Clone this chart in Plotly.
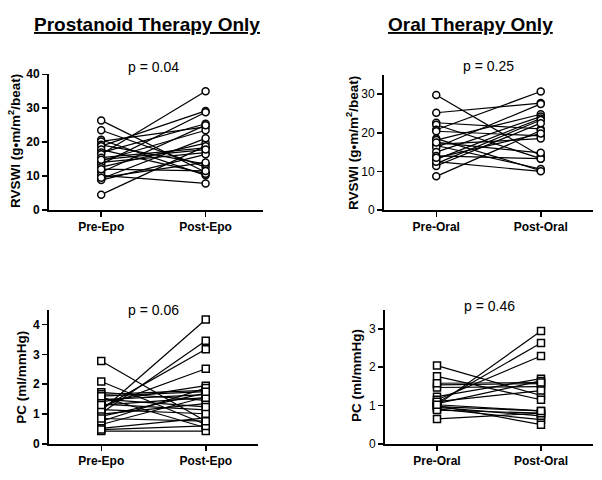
import plotly.graph_objects as go

# ---- data ----
epo_labels = ["Pre-Epo", "Post-Epo"]
oral_labels = ["Pre-Oral", "Post-Oral"]

rvswi_epo_pre = [26.4, 23.5, 20.7, 20.2, 19.2, 18.8, 17.8, 16.9, 16.4, 15.4, 14.5,
                 14.0, 13.5, 12.6, 11.1, 10.2, 9.2, 8.8, 9.5, 4.5, 14.8, 12.0]
rvswi_epo_post = [11.1, 12.6, 10.2, 24.5, 13.5, 29.2, 10.7, 25.4, 35.0, 18.3, 23.5,
                  16.9, 28.8, 19.7, 25.0, 7.8, 21.1, 16.4, 14.0, 18.8, 17.8, 11.5]

rvswi_oral_pre = [29.8, 25.2, 22.6, 22.1, 20.8, 20.4, 18.5, 18.1, 17.0, 16.7,
                  16.2, 15.0, 14.0, 13.1, 12.0, 11.4, 8.7, 12.5, 17.5, 13.5]
rvswi_oral_post = [14.0, 27.7, 21.0, 13.3, 30.7, 19.2, 10.2, 24.8, 18.5, 10.6,
                   27.5, 24.2, 13.3, 23.7, 23.3, 22.5, 20.6, 10.0, 14.8, 19.8]

pc_epo_pre = [2.78, 2.09, 1.73, 1.66, 1.57, 1.48, 1.41, 1.33, 1.24, 1.19, 1.11, 1.03,
              0.92, 0.76, 0.65, 0.52, 0.43, 0.48, 1.00, 1.15, 1.50, 1.30, 0.85, 1.60]
pc_epo_post = [0.76, 0.65, 1.46, 1.79, 0.54, 1.65, 1.95, 1.14, 2.52, 3.17, 4.17, 3.46,
               1.70, 1.87, 1.57, 0.87, 0.43, 0.60, 1.35, 1.01, 1.24, 1.55, 0.76, 1.75]

pc_oral_pre = [2.04, 1.76, 1.54, 1.47, 1.23, 1.15, 1.07, 1.01, 0.97, 0.91, 0.65,
               1.00, 1.05, 0.95, 1.10, 1.58, 0.88, 1.02]
pc_oral_post = [1.26, 1.15, 1.57, 1.49, 1.70, 2.29, 2.63, 2.94, 0.86, 0.63, 0.80,
                0.50, 1.64, 0.73, 1.39, 1.60, 0.80, 0.86]

p_values = ["p = 0.04", "p = 0.25", "p = 0.06", "p = 0.46"]
titles = ["Prostanoid Therapy Only", "Oral Therapy Only"]
ytitles = ["RVSWI (g•m/m<sup>2</sup>/beat)", "RVSWI (g•m/m<sup>2</sup>/beat)",
           "PC (ml/mmHg)", "PC (ml/mmHg)"]
yranges = [[0, 40], [0, 35], [0, 4.5], [0, 3.5]]
ytickvals = [[0, 10, 20, 30, 40], [0, 10, 20, 30], [0, 1, 2, 3, 4], [0, 1, 2, 3]]

W, H = 602, 480
FONT = "Liberation Sans, Arial, sans-serif"

def px(x):
    return x / W

def py(y):
    return 1 - y / H

# panel geometry in pixels: (x0, x1, ytop, ybottom)
panels = [(49, 263, 69.3, 209), (384, 593, 70, 209),
          (49, 258, 311.7, 450), (385, 593, 311.7, 450)]
bold_ticks = [True, False, True, False]
p_ypix = [62, 61, 312, 308]

datasets = [(rvswi_epo_pre, rvswi_epo_post, epo_labels, "circle"),
            (rvswi_oral_pre, rvswi_oral_post, oral_labels, "circle"),
            (pc_epo_pre, pc_epo_post, epo_labels, "square"),
            (pc_oral_pre, pc_oral_post, oral_labels, "square")]

fig = go.Figure()
annotations = []
for i, ((pre, post, labels, sym), (x0, x1, yt, yb)) in enumerate(zip(datasets, panels)):
    n = i + 1
    xs, ys = [], []
    for a, b in zip(pre, post):
        xs += [0, 1, None]
        ys += [a, b, None]
    fig.add_trace(go.Scatter(
        x=xs, y=ys, mode="lines+markers",
        line=dict(color="black", width=1.2),
        marker=dict(symbol=sym, size=7, color="white",
                    line=dict(color="black", width=1.5)),
        xaxis=f"x{n}", yaxis=f"y{n}", showlegend=False, cliponaxis=False,
        hoverinfo="skip"))
    tf = dict(family=FONT, size=12, color="black")
    xa = dict(domain=[px(x0), px(x1)], range=[-0.5, 1.55 if i == 0 else 1.5],
              tickvals=[0, 1], ticktext=[f"<b>{t}</b>" for t in labels],
              showline=True, linecolor="black", linewidth=2,
              ticks="outside", ticklen=5, tickwidth=1.5, tickcolor="black",
              showgrid=False, zeroline=False, tickfont=tf,
              anchor=f"y{n}", fixedrange=True)
    ya = dict(domain=[py(yb), py(yt)], range=yranges[i],
              tickvals=ytickvals[i],
              ticktext=[(f"<b>{v}</b>" if bold_ticks[i] else str(v)) for v in ytickvals[i]],
              showline=True, linecolor="black", linewidth=2,
              ticks="outside", ticklen=5, tickwidth=1.5, tickcolor="black",
              showgrid=False, zeroline=False,
              tickfont=dict(family=FONT, size=12, color="black"),
              anchor=f"x{n}", fixedrange=True)
    key = "" if n == 1 else str(n)
    fig.update_layout(**{f"xaxis{key}": xa, f"yaxis{key}": ya})
    annotations.append(dict(
        text=p_values[i], xref="x" + (str(n) if n > 1 else ""), yref="paper",
        x=0.5, y=py(p_ypix[i]), showarrow=False, yanchor="middle",
        font=dict(family=FONT, size=14, color="black")))

# y axis titles
ytpos = [(14, 138), (352, 140), (22, 382), (357, 380)]
for i, (xx, yy) in enumerate(ytpos):
    annotations.append(dict(
        text=f"<b>{ytitles[i]}</b>", xref="paper", yref="paper",
        x=px(xx), y=py(yy), showarrow=False, textangle=-90,
        xanchor="center", yanchor="middle",
        font=dict(family=FONT, size=13.5, color="black")))

# panel titles
for t, xx in zip(titles, [146.7, 470]):
    annotations.append(dict(
        text=f"<b><u>{t}</u></b>", xref="paper", yref="paper",
        x=px(xx), y=py(18), showarrow=False, xanchor="center", yanchor="middle",
        font=dict(family=FONT, size=19, color="black")))

fig.update_layout(width=W, height=H, margin=dict(l=0, r=0, t=0, b=0),
                  paper_bgcolor="white", plot_bgcolor="white",
                  annotations=annotations, hovermode=False)
fig.write_html("out.html", config={"displayModeBar": False, "staticPlot": True},
               post_script="document.body.style.margin='0';document.body.style.overflow='hidden';")
